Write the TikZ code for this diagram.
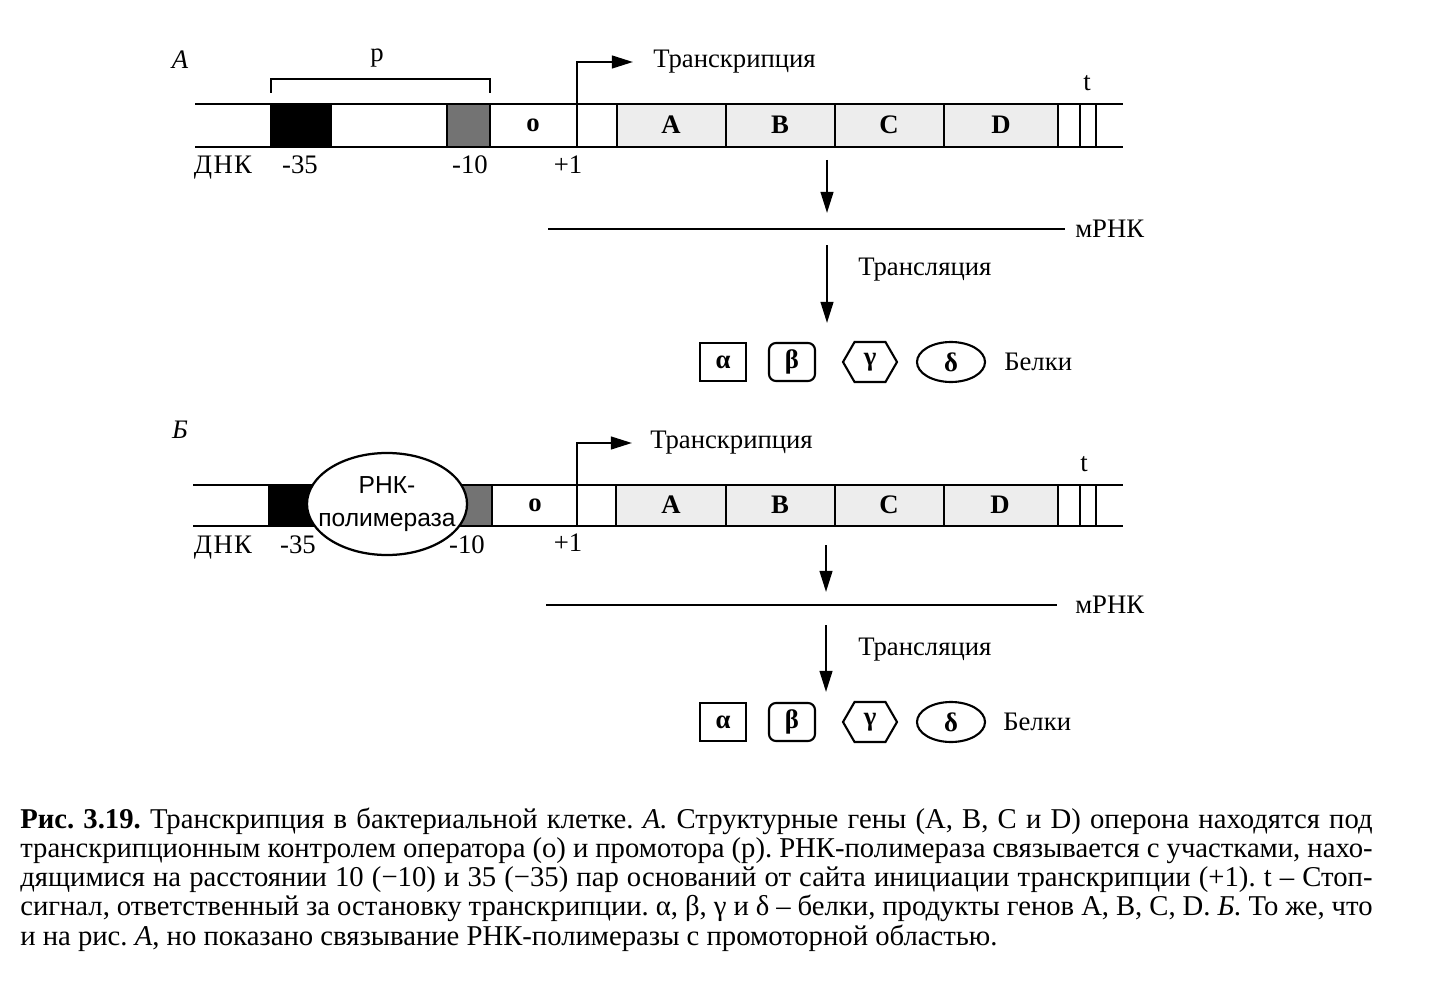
\documentclass[tikz,border=0pt]{standalone}
\usepackage{fontspec}
\setmainfont{Liberation Serif}
\setsansfont{Liberation Sans}
\usetikzlibrary{arrows.meta,shapes.geometric,shapes.symbols}

\newcommand\lblsize{\fontsize{19}{22}\selectfont}
\newcommand\capsize{\fontsize{20.4}{24}\selectfont}
\newlength\capw
\setlength\capw{33.8cm}
\frenchspacing

\tikzset{
  dna/.style={line width=1.6pt},
  genebox/.style={draw, line width=1.6pt, fill=black!7},
  lbl/.style={font=\lblsize, inner sep=0pt},
  genelbl/.style={font=\lblsize\bfseries, inner sep=0pt},
  flow/.style={line width=1.6pt, -{Triangle[length=15pt,width=9pt]}},
  protbox/.style={draw, line width=1.5pt, font=\lblsize\bfseries, inner sep=0pt, minimum height=0.95cm},
  capline/.style={font=\capsize, inner sep=0pt, anchor=base west}
}

\begin{document}
\begin{tikzpicture}[x=0.025cm, y=-0.025cm]
  \useasboundingbox (0,0) rectangle (1453,985);

  % ---------- panel A ----------
  \node[lbl, font=\lblsize\itshape] (panelA) at (180,60) {А};

  % promoter bracket
  \draw[line width=1.4pt] (271,93) -- (271,79) -- (490,79) -- (490,93);
  \node[lbl] (promA) at (377,58) {р};

  % DNA
  \draw[dna] (195,104) -- (1123,104);
  \draw[dna] (195,147) -- (1123,147);
  \filldraw[dna] (271,104) rectangle (331,147);
  \filldraw[dna, fill=black!55] (447,104) rectangle (490,147);
  \draw[genebox] (617,104) rectangle (726,147);
  \draw[genebox] (726,104) rectangle (835,147);
  \draw[genebox] (835,104) rectangle (944,147);
  \draw[genebox] (944,104) rectangle (1058,147);
  \draw[dna] (1080,104) -- (1080,147);
  \draw[dna] (1096,104) -- (1096,147);

  \node[genelbl] (opA) at (533,125) {о};
  \node[genelbl] (geneAa) at (671,125) {A};
  \node[genelbl] (geneBa) at (780,125) {B};
  \node[genelbl] (geneCa) at (889,125) {C};
  \node[genelbl] (geneDa) at (1001,125) {D};
  \node[lbl] (stopA) at (1087,83) {t};

  \node[lbl] (dnaA) at (223,168) {Д\kern1ptН\kern1ptК};
  \node[lbl] (m35A) at (300,165) {-35};
  \node[lbl] (m10A) at (470,165) {-10};
  \node[lbl] (p1A) at (568,165) {+1};

  % transcription start
  \coordinate (tssA) at (577,147);
  \node[lbl, anchor=west] (trA) at (653,62) {Транскрипция};
  \draw[flow, shorten >=0.5cm] (tssA) |- (trA.west);

  % mRNA and translation
  \coordinate (downA1) at (827,160);
  \coordinate (downA2) at (827,213);
  \draw[flow] (downA1) -- (downA2);
  \coordinate (mrnaAl) at (548,229);
  \coordinate (mrnaAr) at (1065,229);
  \draw[dna] (mrnaAl) -- (mrnaAr);
  \node[lbl, anchor=west] (mrnaA) at (1075,229) {мРНК};
  \coordinate (downA3) at (827,245);
  \coordinate (downA4) at (827,323);
  \draw[flow] (downA3) -- (downA4);
  \node[lbl, anchor=west] (tlA) at (858,270) {Трансляция};

  % proteins
  \node[protbox, minimum width=1.17cm] (alphaA) at (723,362) {α};
  \node[protbox, rounded corners=5pt, minimum width=1.15cm] (betaA) at (792,362) {β};
  \node[protbox, signal, signal to=west and east, signal pointer angle=120,
        minimum width=1.35cm, minimum height=1cm] (gammaA) at (870,362) {γ};
  \node[protbox, ellipse, minimum width=1.7cm, minimum height=1cm] (deltaA) at (951,362) {δ};
  \node[lbl, anchor=west] (protA) at (1004,362) {Белки};

  % ---------- panel B ----------
  \node[lbl, font=\lblsize\itshape] (panelB) at (180,430) {Б};

  % DNA
  \draw[dna] (193,485) -- (1123,485);
  \draw[dna] (193,526) -- (1123,526);
  \filldraw[dna] (269,485) rectangle (331,526);
  \filldraw[dna, fill=black!55] (460,485) rectangle (492,526);
  \draw[genebox] (616,485) rectangle (726,526);
  \draw[genebox] (726,485) rectangle (835,526);
  \draw[genebox] (835,485) rectangle (944,526);
  \draw[genebox] (944,485) rectangle (1058,526);
  \draw[dna] (1080,485) -- (1080,526);
  \draw[dna] (1096,485) -- (1096,526);

  \node[draw, fill=white, line width=1.6pt, ellipse, minimum width=4cm, minimum height=2.55cm,
        inner sep=0pt] (polB) at (387,504) {};
  \node[align=center, inner sep=0pt, font=\sffamily\fontsize{17.5}{24}\selectfont]
        (polBtext) at (polB) {РНК-\\полимераза};

  \node[genelbl] (opB) at (535,505) {о};
  \node[genelbl] (geneAb) at (671,505) {A};
  \node[genelbl] (geneBb) at (780,505) {B};
  \node[genelbl] (geneCb) at (889,505) {C};
  \node[genelbl] (geneDb) at (1000,505) {D};
  \node[lbl] (stopB) at (1084,464) {t};

  \node[lbl] (dnaB) at (223,548) {Д\kern1ptН\kern1ptК};
  \node[lbl] (m35B) at (298,545) {-35};
  \node[lbl] (m10B) at (467,545) {-10};
  \node[lbl] (p1B) at (568,543) {+1};

  % transcription start
  \coordinate (tssB) at (577,526);
  \node[lbl, anchor=west] (trB) at (650,443) {Транскрипция};
  \draw[flow, shorten >=0.45cm] (tssB) |- (trB.west);

  % mRNA and translation
  \coordinate (downB1) at (826,545);
  \coordinate (downB2) at (826,592);
  \draw[flow] (downB1) -- (downB2);
  \coordinate (mrnaBl) at (546,605);
  \coordinate (mrnaBr) at (1057,605);
  \draw[dna] (mrnaBl) -- (mrnaBr);
  \node[lbl, anchor=west] (mrnaB) at (1075,605) {мРНК};
  \coordinate (downB3) at (826,625);
  \coordinate (downB4) at (826,692);
  \draw[flow] (downB3) -- (downB4);
  \node[lbl, anchor=west] (tlB) at (858,650) {Трансляция};

  % proteins
  \node[protbox, minimum width=1.17cm] (alphaB) at (723,722) {α};
  \node[protbox, rounded corners=5pt, minimum width=1.15cm] (betaB) at (792,722) {β};
  \node[protbox, signal, signal to=west and east, signal pointer angle=120,
        minimum width=1.35cm, minimum height=1cm] (gammaB) at (870,722) {γ};
  \node[protbox, ellipse, minimum width=1.7cm, minimum height=1cm] (deltaB) at (951,722) {δ};
  \node[lbl, anchor=west] (protB) at (1003,722) {Белки};

  % ---------- caption ----------
  \node[capline] (cap1) at (20,828) {\makebox[\capw][s]{{\bfseries Рис. 3.19.} Транскрипция в бактериальной клетке. \textit{А.} Структурные гены (A, B, C и D) оперона находятся под}};
  \node[capline] (cap2) at (20,857) {\makebox[\capw][s]{транскрипционным контролем оператора (о) и промотора (р). РНК-полимераза связывается с участками, нахо-}};
  \node[capline] (cap3) at (20,886) {\makebox[\capw][s]{дящимися на расстоянии 10 (−10) и 35 (−35) пар оснований от сайта инициации транскрипции (+1). t – Стоп-}};
  \node[capline] (cap4) at (20,915) {\makebox[\capw][s]{сигнал, ответственный за остановку транскрипции. α, β, γ и δ – белки, продукты генов A, B, C, D. \textit{Б.} То же, что}};
  \node[capline] (cap5) at (20,945) {и на рис. \textit{А}, но показано связывание РНК-полимеразы с промоторной областью.};
\end{tikzpicture}
\end{document}
